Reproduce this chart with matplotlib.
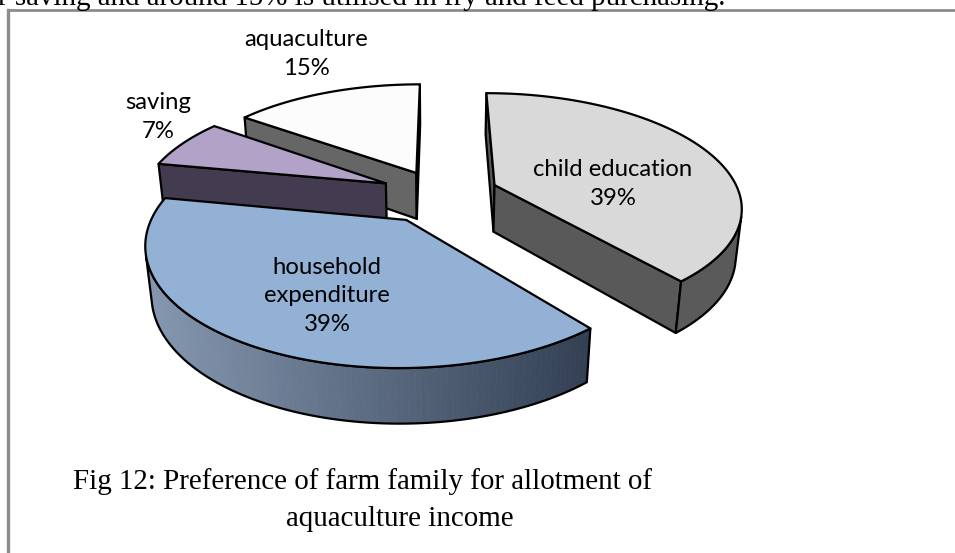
import numpy as np
import matplotlib
matplotlib.use("Agg")
import matplotlib.pyplot as plt
from matplotlib.patches import Polygon
from matplotlib.colors import to_rgb

# share of aquaculture income (%)
labels = ["child education", "household\nexpenditure", "saving", "aquaculture"]
values = [39, 39, 7, 15]
top_colors = ["#d9d9d9", "#93b1d5", "#b3a2c7", "#fcfcfc"]
side_colors = ["#595959", "#3f4c5f", "#433b50", "#666666"]
explode = [0.24, 0.26, 0.245, 0.22]

W, H = 955, 553
fig = plt.figure(figsize=(W / 100, H / 100), dpi=100)
ax = fig.add_axes([0, 0, 1, 1])
ax.set_xlim(0, W)
ax.set_ylim(H, 0)
ax.axis("off")

# simple perspective camera for the 3d pie
CX, CY = 440, 194
A = 245
elev = np.radians(27)
D = 5.0
thick = 0.22
se, ce = np.sin(elev), np.cos(elev)
cam = np.array([0, -D * ce, D * se])


def project(X, Y, Z):
    X, Y, Z = np.asarray(X), np.asarray(Y), np.asarray(Z)
    up = Z * ce + Y * se
    depth = D + Y * ce - Z * se
    k = D / depth
    return np.column_stack([CX + A * X * k, CY - A * up * k])


def facing(p, n):
    return np.dot(cam - p, n) > 0


def lerp(c1, c2, t):
    a, b = np.array(to_rgb(c1)), np.array(to_rgb(c2))
    return tuple(a + (b - a) * t)


def draw_face(pts, color):
    ax.add_patch(Polygon(pts, closed=True, fc=color, ec="black", lw=1.6,
                         joinstyle="round"))


fracs = np.array(values) / sum(values)
starts = 90 - 360 * np.concatenate([[0], np.cumsum(fracs)[:-1]])
ends = starts - 360 * fracs

slices = []
for i in range(len(values)):
    t1, t2 = np.radians(starts[i]), np.radians(ends[i])
    mid = (t1 + t2) / 2
    ox, oy = explode[i] * np.cos(mid), explode[i] * np.sin(mid)
    depth = oy + 0.5 * np.sin(mid)
    slices.append((depth, i, t1, t2, ox, oy))

# back slices first
slices.sort(key=lambda s: -s[0])

for depth, i, t1, t2, ox, oy in slices:
    th = np.linspace(t1, t2, 120)
    rx, ry = ox + np.cos(th), oy + np.sin(th)
    apex = np.array([ox, oy, 0])

    # radial walls
    for t, n in [(t1, np.array([-np.sin(t1), np.cos(t1), 0])),
                 (t2, np.array([np.sin(t2), -np.cos(t2), 0]))]:
        if facing(apex + 0.5 * np.array([np.cos(t), np.sin(t), 0]), n):
            ex, ey = ox + np.cos(t), oy + np.sin(t)
            pts = project([ox, ex, ex, ox], [oy, ey, ey, oy],
                          [0, 0, -thick, -thick])
            draw_face(pts, side_colors[i])

    # outer curved wall, only the part facing the camera
    vis = np.array([facing(np.array([x, y, -thick / 2]),
                           np.array([np.cos(a), np.sin(a), 0]))
                    for x, y, a in zip(rx, ry, th)])
    if vis.any():
        idx = np.where(vis)[0]
        vx, vy = rx[idx], ry[idx]
        top = project(vx, vy, np.zeros_like(vx))
        bot = project(vx, vy, np.full_like(vx, -thick))
        xs = top[:, 0]
        n = len(idx)
        for j in range(n - 1):
            if i == 1:
                # household wall shades from light (left) to dark (right)
                t = ((xs[j] + xs[j + 1]) / 2 - xs.min()) / (xs.max() - xs.min())
                c = lerp("#8597b0", "#334053", t)
            else:
                c = side_colors[i]
            q = np.array([top[j], top[j + 1], bot[j + 1], bot[j]])
            ax.add_patch(Polygon(q, closed=True, fc=c, ec=c, lw=0.6))
        outline = np.vstack([top, bot[::-1]])
        ax.add_patch(Polygon(outline, closed=True, fc="none", ec="black",
                             lw=1.6, joinstyle="round"))

    # top face
    fx = np.concatenate([[ox], rx])
    fy = np.concatenate([[oy], ry])
    draw_face(project(fx, fy, np.zeros_like(fx)), top_colors[i])

# data labels
lab_font = dict(family=["Lato", "DejaVu Sans"], fontsize=17.2, color="black",
                ha="center", va="center", linespacing=1.45)
label_pos = [(613, 184), (327, 296), (158, 117), (306, 54)]
for lab, v, (x, y) in zip(labels, values, label_pos):
    ax.text(x, y, f"{lab}\n{v}%", **lab_font)

# caption and surrounding text
serif = ["Liberation Serif", "DejaVu Serif"]
ax.text(362, 482, "Fig 12: Preference of farm family for allotment of",
        family=serif, fontsize=20.9, ha="center", va="center")
ax.text(400, 519, "aquaculture income", family=serif, fontsize=20.9,
        ha="center", va="center")
ax.text(-2, 5, "r saving and around 15% is utilised in fry and feed purchasing.",
        family=serif, fontsize=20.9, ha="left", va="baseline")

# frame
ax.plot([8, 8], [10, H + 5], color="#8c8c8c", lw=2.4, clip_on=False)
ax.plot([8, W + 5], [10, 10], color="#8c8c8c", lw=2.0, clip_on=False)

fig.savefig("out.png", dpi=100)
